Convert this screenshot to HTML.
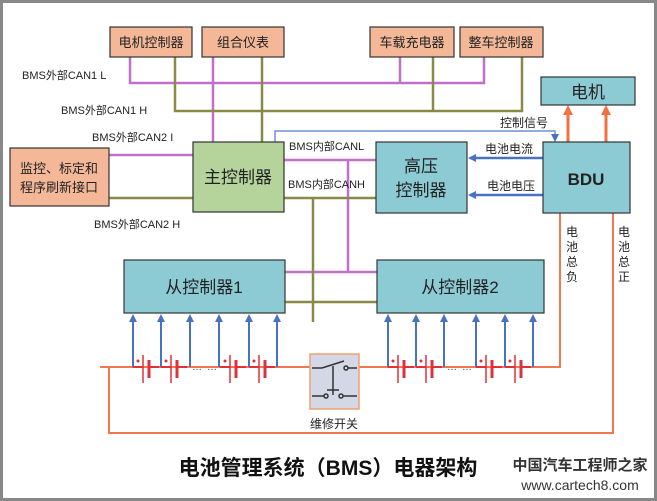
<!DOCTYPE html>
<html><head><meta charset="utf-8"><style>
html,body{margin:0;padding:0;background:#fff}
svg{display:block}
text{font-family:"Liberation Sans","Noto Sans CJK SC",sans-serif}
</style></head><body>
<svg width="657" height="501" viewBox="0 0 657 501" xmlns="http://www.w3.org/2000/svg">
<defs>
<marker id="ab" markerWidth="8" markerHeight="8" refX="6" refY="4" orient="auto" markerUnits="userSpaceOnUse"><path d="M0,0 L8,4 L0,8 z" fill="#4a72c4"/></marker>
<marker id="ao" markerWidth="10" markerHeight="10" refX="7" refY="5" orient="auto" markerUnits="userSpaceOnUse"><path d="M0,0 L10,5 L0,10 z" fill="#f07040"/></marker>
<g id="c" stroke="#e0303a" fill="none">
<line x1="-4" y1="355" x2="-4" y2="383" stroke-width="1.5"/><line x1="2" y1="360" x2="2" y2="378" stroke-width="3"/>
<line x1="-14" y1="367" x2="-4" y2="367" stroke-width="2"/><line x1="2" y1="367" x2="12" y2="367" stroke-width="2"/>
<circle cx="-9" cy="361" r="1" fill="#e0303a"/>
</g>
</defs>
<rect x="1.5" y="1.5" width="654" height="498" fill="#fff" stroke="#888" stroke-width="3"/>

<g stroke="#c070c8" stroke-width="2.5" fill="none">
<polyline points="130,57 130,83 484,83 484,57"/>
<line x1="213" y1="57" x2="213" y2="142"/>
<line x1="400" y1="57" x2="400" y2="83"/>
<line x1="109" y1="155" x2="193" y2="155"/>
<line x1="284" y1="160" x2="376" y2="160"/>
<line x1="348" y1="160" x2="348" y2="272"/>
<line x1="285" y1="272" x2="377" y2="272"/>
</g>
<g stroke="#8a8a48" stroke-width="2.5" fill="none">
<polyline points="175,57 175,111 522,111 522,57"/>
<line x1="262" y1="57" x2="262" y2="142"/>
<line x1="433" y1="57" x2="433" y2="111"/>
<line x1="109" y1="198" x2="193" y2="198"/>
<line x1="284" y1="198" x2="376" y2="198"/>
<line x1="313" y1="198" x2="313" y2="322"/>
<line x1="285" y1="302" x2="377" y2="302"/>
</g>

<polyline points="275,142 275,131 555,131 555,140" fill="none" stroke="#7090d0" stroke-width="1.5" marker-end="url(#ab)"/>
<line x1="543" y1="158" x2="470" y2="158" stroke="#4a72c4" stroke-width="2.5" marker-end="url(#ab)"/>
<line x1="543" y1="195" x2="470" y2="195" stroke="#4a72c4" stroke-width="2.5" marker-end="url(#ab)"/>
<line x1="568" y1="142" x2="568" y2="108" stroke="#f07040" stroke-width="3" marker-end="url(#ao)"/>
<line x1="606" y1="142" x2="606" y2="108" stroke="#f07040" stroke-width="3" marker-end="url(#ao)"/>

<g stroke="#f07850" stroke-width="2" fill="none">
<polyline points="560,213 560,367 100,367"/>
<polyline points="613,213 613,433 109,433 109,367"/>
</g>

<g stroke="#333" stroke-width="1.2">
<rect x="110" y="27" width="82" height="30" fill="#f4b898"/>
<rect x="202" y="27" width="82" height="30" fill="#f4b898"/>
<rect x="370" y="27" width="84" height="30" fill="#f4b898"/>
<rect x="460" y="27" width="83" height="30" fill="#f4b898"/>
<rect x="10" y="148" width="99" height="58" fill="#f4b898"/>
<rect x="193" y="142" width="91" height="70" fill="#b4d49c"/>
<rect x="541" y="77" width="94" height="28" fill="#8ccbd4"/>
<rect x="376" y="142" width="91" height="71" fill="#8ccbd4"/>
<rect x="543" y="142" width="87" height="71" fill="#8ccbd4"/>
<rect x="124" y="260" width="161" height="53" fill="#8ccbd4"/>
<rect x="377" y="260" width="167" height="53" fill="#8ccbd4"/>
</g>

<g stroke="#4a72c4" stroke-width="2" marker-end="url(#ab)">
<line x1="133" y1="367" x2="133" y2="316"/><line x1="161" y1="367" x2="161" y2="316"/><line x1="190" y1="367" x2="190" y2="316"/>
<line x1="219" y1="367" x2="219" y2="316"/><line x1="249" y1="367" x2="249" y2="316"/><line x1="277" y1="367" x2="277" y2="316"/>
<line x1="388" y1="367" x2="388" y2="316"/><line x1="416" y1="367" x2="416" y2="316"/><line x1="444" y1="367" x2="444" y2="316"/>
<line x1="476" y1="367" x2="476" y2="316"/><line x1="505" y1="367" x2="505" y2="316"/><line x1="533" y1="367" x2="533" y2="316"/>
</g>
<use href="#c" x="147"/><use href="#c" x="175"/><use href="#c" x="234"/><use href="#c" x="263"/>
<use href="#c" x="402"/><use href="#c" x="430"/><use href="#c" x="490"/><use href="#c" x="519"/>
<g fill="#333" font-size="10"><text x="192" y="370">…</text><text x="207" y="370">…</text><text x="447" y="370">…</text><text x="462" y="370">…</text></g>
<line x1="285" y1="367" x2="380" y2="367" stroke="#f07850" stroke-width="2"/>
<rect x="310" y="354" width="49" height="55" fill="#d4d8e6" stroke="#f0a070" stroke-width="1.5"/>
<g stroke="#333" stroke-width="1.5" fill="none">
<line x1="312" y1="368" x2="322" y2="368"/><line x1="322" y1="368" x2="344" y2="361"/><circle cx="346" cy="368" r="2"/><line x1="348" y1="368" x2="357" y2="368"/>
<line x1="333" y1="366" x2="333" y2="395"/>
<line x1="312" y1="396" x2="324" y2="396"/><circle cx="326" cy="396" r="2"/><line x1="327" y1="390" x2="339" y2="390"/><circle cx="341" cy="396" r="2"/><line x1="343" y1="396" x2="357" y2="396"/>
</g>

<g fill="#222" font-size="13" text-anchor="middle">
<text x="151" y="47">电机控制器</text><text x="243" y="47">组合仪表</text>
<text x="412" y="47">车载充电器</text><text x="501" y="47">整车控制器</text>
<text x="59" y="173">监控、标定和</text><text x="59" y="192">程序刷新接口</text>
<text x="334" y="428" font-size="12">维修开关</text>
</g>
<g fill="#222" font-size="17" text-anchor="middle">
<text x="238" y="183">主控制器</text>
<text x="588" y="98">电机</text>
<text x="421" y="172">高压</text><text x="421" y="196">控制器</text>
<text x="586" y="185" font-weight="bold">BDU</text>
<text x="204" y="293">从控制器1</text><text x="460" y="293">从控制器2</text>
</g>
<g fill="#222" font-size="11">
<text x="22" y="79">BMS外部CAN1 L</text>
<text x="61" y="114">BMS外部CAN1 H</text>
<text x="92" y="141">BMS外部CAN2 I</text>
<text x="94" y="228">BMS外部CAN2 H</text>
<text x="289" y="150">BMS内部CANL</text>
<text x="288" y="188">BMS内部CANH</text>
<text x="500" y="127" font-size="12">控制信号</text>
<text x="485" y="153" font-size="12">电池电流</text>
<text x="487" y="190" font-size="12">电池电压</text>
</g>
<g fill="#222" font-size="12" text-anchor="middle">
<text x="572" y="236">电</text><text x="572" y="251">池</text><text x="572" y="266">总</text><text x="572" y="281">负</text>
<text x="624" y="236">电</text><text x="624" y="251">池</text><text x="624" y="266">总</text><text x="624" y="281">正</text>
</g>
<text x="328" y="475" font-size="21" text-anchor="middle" fill="#111" font-weight="bold">电池管理系统（BMS）电器架构</text>
<text x="580" y="470" font-size="15" text-anchor="middle" fill="#333" font-weight="bold">中国汽车工程师之家</text>
<text x="580" y="490" font-size="14" text-anchor="middle" fill="#333" font-family="Liberation Mono, monospace">www.cartech8.com</text>
</svg>
</body></html>
